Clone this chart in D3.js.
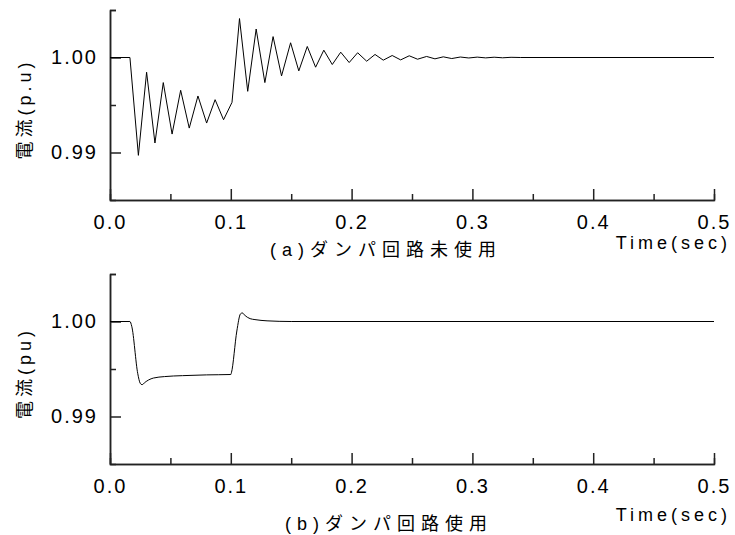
<!DOCTYPE html>
<html>
<head>
<meta charset="utf-8">
<script src="https://cdn.jsdelivr.net/npm/d3@7/dist/d3.min.js"></script>
<style>
body { margin: 0; background: #fff; }
.axis path, .axis line { stroke: #222; stroke-width: 1.5; fill: none; }
.axis text { font: 20px "Liberation Sans", Arial, sans-serif; letter-spacing: 2px; fill: #000; }
.lbl { font-family: "Liberation Sans", "Noto Sans CJK JP", sans-serif; fill: #000; }
.trace { fill: none; stroke: #000; stroke-width: 1; }
</style>
</head>
<body>
<script>
// (a) without damper circuit: peaks and troughs
var timeA = [0.000, 0.0165, 0.0235, 0.0303, 0.0372, 0.0441, 0.0514, 0.0585, 0.0656, 0.0728,
             0.0800, 0.0870, 0.0940, 0.1010, 0.1072, 0.1140, 0.1210, 0.1282, 0.1350, 0.1420,
             0.1495, 0.1563, 0.1633, 0.1702, 0.1770, 0.1840, 0.1910, 0.1980, 0.2050, 0.2125,
             0.2194, 0.2262, 0.2336, 0.2406, 0.2477, 0.2546, 0.2621, 0.2690, 0.2759, 0.2829,
             0.2900, 0.2970, 0.3040, 0.3110, 0.3180, 0.3250, 0.3320, 0.3400, 0.5000];
var currA = [1.0000, 1.0000, 0.9897, 0.99845, 0.9910, 0.99736, 0.99194, 0.99655, 0.99257, 0.99595,
             0.9931, 0.99556, 0.99345, 0.99528, 1.0041, 0.99644, 1.0030, 0.99736, 1.0022, 0.99806,
             1.00155, 0.99859, 1.00116, 0.99898, 1.00077, 0.99926, 1.00056, 0.99947, 1.0005, 0.99961,
             1.00032, 0.99972, 1.00021, 0.99975, 1.00018, 0.99982, 1.00011, 0.99986, 1.00007, 0.99989,
             1.00005, 0.99995, 1.00004, 0.99996, 1.00003, 0.99997, 1.00002, 1.0000, 1.0000];

// (b) with damper circuit
var timeB = [0.000, 0.0165, 0.018, 0.023, 0.025, 0.0265, 0.029, 0.032, 0.036, 0.045,
             0.060, 0.080, 0.1000, 0.1005, 0.105, 0.108, 0.1095, 0.112, 0.116, 0.120,
             0.130, 0.150, 0.500];
var currB = [1.0000, 1.0000, 0.9995, 0.9945, 0.9935, 0.99335, 0.9936, 0.99385, 0.99405, 0.9942,
             0.9943, 0.99438, 0.99442, 0.9946, 0.9990, 1.0008, 1.0009, 1.0006, 1.0003, 1.0002,
             1.00007, 1.0000, 1.0000];

var xMajor = [0, 0.1, 0.2, 0.3, 0.4, 0.5];
var xMinor = [0.05, 0.15, 0.25, 0.35, 0.45];
var yMajor = [0.99, 1.00];
var yMinor = [0.995, 1.005];

var panels = [
  {time: timeA, curr: currA, curve: d3.curveLinear, top: 10, bottom: 200, ylab: "電流(p.u)", cap: "(a)ダンパ回路未使用", capX: 270, capY: 256, tY: 249},
  {time: timeB, curr: currB, curve: d3.curveMonotoneX, top: 274, bottom: 464, ylab: "電流(pu)", cap: "(b)ダンパ回路使用", capX: 285, capY: 530, tY: 521}
];

var svg = d3.select("body").append("svg")
    .attr("width", 735)
    .attr("height", 535);

var x = d3.scaleLinear().domain([0, 0.5]).range([110, 714]);

panels.forEach(function(p) {
  var y = d3.scaleLinear().domain([0.985, 1.005]).range([p.bottom, p.top]);
  var pts = p.time.map(function(t, i) { return [t, p.curr[i]]; });

  // minor ticks first
  svg.append("g").attr("class", "axis")
      .attr("transform", "translate(0," + p.bottom + ")")
      .call(d3.axisBottom(x).tickValues(xMinor).tickSize(-6).tickFormat(""));
  svg.append("g").attr("class", "axis")
      .attr("transform", "translate(110,0)")
      .call(d3.axisLeft(y).tickValues(yMinor).tickSize(-6).tickFormat(""));

  svg.append("g").attr("class", "axis")
      .attr("transform", "translate(0," + p.bottom + ")")
      .call(d3.axisBottom(x).tickValues(xMajor).tickSizeInner(-11).tickSizeOuter(0)
            .tickPadding(15).tickFormat(d3.format(".1f")));
  svg.append("g").attr("class", "axis")
      .attr("transform", "translate(110,0)")
      .call(d3.axisLeft(y).tickValues(yMajor).tickSizeInner(-11).tickSizeOuter(0)
            .tickPadding(12).tickFormat(d3.format(".2f")));

  svg.append("path")
      .attr("class", "trace")
      .attr("d", d3.line()
          .x(function(d) { return x(d[0]); })
          .y(function(d) { return y(d[1]); })
          .curve(p.curve)(pts));

  // y axis title
  svg.append("text")
      .attr("class", "lbl")
      .attr("transform", "translate(31," + ((p.top + p.bottom) / 2 + 4) + ") rotate(-90)")
      .attr("text-anchor", "middle")
      .style("font-size", "18px")
      .style("letter-spacing", "4px")
      .text(p.ylab);

  // caption
  svg.append("text")
      .attr("class", "lbl")
      .attr("x", p.capX)
      .attr("y", p.capY)
      .style("font-size", "18px")
      .style("letter-spacing", "6px")
      .text(p.cap);

  svg.append("text")
      .attr("class", "lbl")
      .attr("x", 731)
      .attr("y", p.tY)
      .attr("text-anchor", "end")
      .style("font-size", "18px")
      .style("letter-spacing", "4px")
      .text("Time(sec)");
});
</script>
</body>
</html>
